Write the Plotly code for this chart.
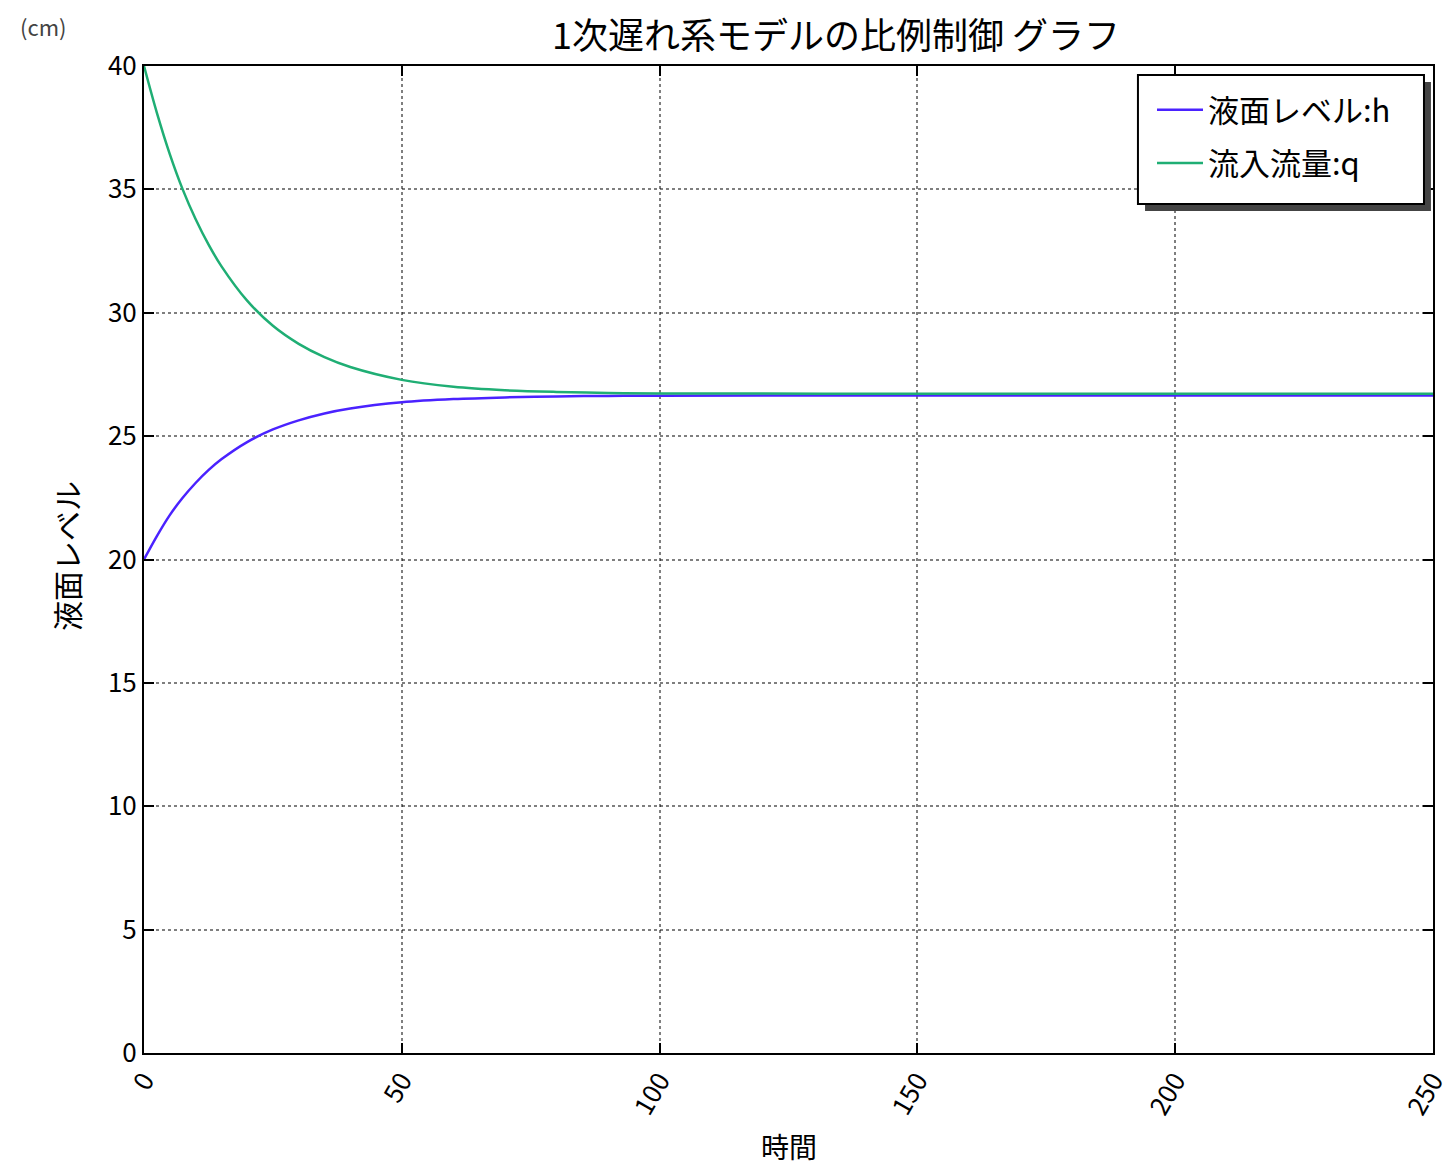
import plotly.graph_objects as go

# time samples
t = [0, 2.5, 5, 7.5, 10, 12.5, 15, 20, 25, 30, 35, 40, 50, 60, 70, 80, 90, 100, 150, 200, 250]
# liquid level h
h = [20.0, 20.95, 21.80, 22.50, 23.10, 23.62, 24.06, 24.76, 25.27, 25.64, 25.92, 26.12,
     26.37, 26.50, 26.57, 26.61, 26.63, 26.64, 26.65, 26.65, 26.65]
# inflow q
q = [40.0, 38.10, 36.43, 35.00, 33.80, 32.77, 31.89, 30.49, 29.47, 28.74, 28.20, 27.80,
     27.28, 27.00, 26.86, 26.79, 26.75, 26.73, 26.72, 26.72, 26.72]

xticks = [0, 50, 100, 150, 200, 250]
yticks = [0, 5, 10, 15, 20, 25, 30, 35, 40]

FONT = "Noto Sans CJK JP, Liberation Sans, sans-serif"

fig = go.Figure()
fig.add_trace(go.Scatter(x=t, y=h, mode="lines", name="液面レベル:h", legendgroup="a",
                         line=dict(color="#4a22ff", width=2.5, shape="spline")))
fig.add_trace(go.Scatter(x=t, y=q, mode="lines", name="流入流量:q", legendgroup="b",
                         line=dict(color="#1fae74", width=2.5, shape="spline")))

axis_common = dict(
    showline=True, linecolor="black", linewidth=2, mirror="allticks",
    ticks="inside", ticklen=10, tickwidth=2, tickcolor="black",
    showgrid=True, gridcolor="rgba(0,0,0,0.5)", griddash="dot", gridwidth=1.5,
    zeroline=False, automargin=False,
    tickfont=dict(family=FONT, size=26, color="black"),
)

fig.update_layout(
    width=1448, height=1162,
    margin=dict(l=136, r=23, t=58, b=117),
    paper_bgcolor="white", plot_bgcolor="white",
    showlegend=True,
    legend=dict(x=0.782, y=0.9828, xanchor="left", yanchor="top",
                bgcolor="rgba(0,0,0,0)", borderwidth=0,
                font=dict(family=FONT, size=31, color="black"),
                tracegroupgap=10, itemwidth=46),
    xaxis=dict(range=[0, 250], tickvals=xticks, ticktext=[str(v) for v in xticks],
               tickangle=-60, **axis_common),
    yaxis=dict(range=[0, 40], tickvals=yticks, ticktext=[str(v) for v in yticks],
               **axis_common),
)

# legend shadow and frame
fig.add_shape(type="rect", xref="paper", yref="paper", layer="above",
              x0=0.7766, x1=0.9984, y0=0.8531, y1=0.9838,
              fillcolor="#444444", line=dict(width=0))
fig.add_shape(type="rect", xref="paper", yref="paper", layer="above",
              x0=0.7711, x1=0.9930, y0=0.8602, y1=0.9909,
              fillcolor="white", line=dict(color="black", width=2))

fig.add_annotation(text="1次遅れ系モデルの比例制御 グラフ", xref="paper", yref="paper",
                   x=0.537, y=1.0334, xanchor="center", yanchor="middle",
                   showarrow=False, font=dict(family=FONT, size=36, color="black"))
fig.add_annotation(text="時間", xref="paper", yref="paper", x=0.5, y=-0.0942,
                   xanchor="center", yanchor="middle", showarrow=False,
                   font=dict(family=FONT, size=28, color="black"))
fig.add_annotation(text="液面レベル", xref="paper", yref="paper", x=-0.0605, y=0.5035,
                   xanchor="center", yanchor="middle", textangle=-90, showarrow=False,
                   font=dict(family=FONT, size=30, color="black"))
fig.add_annotation(text="(cm)", xref="paper", yref="paper", x=-0.078, y=1.0405,
                   xanchor="center", yanchor="middle", showarrow=False,
                   font=dict(family=FONT, size=22, color="#444444"))

fig.write_html("out.html")
